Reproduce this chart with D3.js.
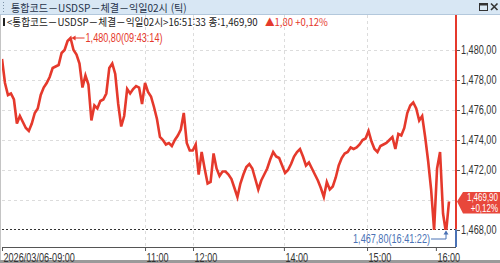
<!DOCTYPE html>
<html lang="ko">
<head>
<meta charset="utf-8">
<title>통합코드-USDSP 틱</title>
<script src="https://cdn.jsdelivr.net/npm/d3@7"></script>
<style>
  body { margin: 0; background: #fff; }
  svg { display: block; }
  .num { font-family: "Liberation Sans", Arial, sans-serif; }
  .kr { font-family: "Noto Sans CJK KR", sans-serif; }
</style>
</head>
<body>
<svg id="chart"></svg>
<script>

// tick-by-tick prices (one value per ~3px)
var prices = [
  1479.4, 1477.8, 1477.0, 1477.1, 1476.7, 1475.1, 1475.6, 1475.2, 1474.8, 1474.6,
  1475.1, 1475.8, 1476.1, 1477.0, 1477.5, 1477.8, 1478.2, 1478.8, 1478.9, 1479.0,
  1479.8, 1480.0, 1480.6, 1480.8, 1480.0, 1479.7, 1479.1, 1477.5, 1478.3, 1477.7,
  1475.3, 1476.3, 1476.1, 1476.6, 1476.7, 1477.1, 1478.8, 1479.1, 1478.4, 1476.4,
  1474.9, 1475.6, 1477.4, 1477.1, 1477.4, 1477.6, 1477.5, 1476.4, 1477.8, 1477.2,
  1476.9, 1476.2, 1475.4, 1474.2, 1474.0, 1473.7, 1473.8, 1473.6, 1474.0, 1474.3,
  1474.7, 1475.8, 1473.8, 1473.3, 1473.3, 1473.7, 1471.7, 1473.2, 1472.1, 1471.1,
  1471.2, 1473.1, 1472.1, 1471.6, 1471.9, 1471.9, 1471.7, 1471.4, 1470.8, 1470.2,
  1471.1, 1471.7, 1472.2, 1472.4, 1472.1, 1471.4, 1470.7, 1471.3, 1471.7, 1472.1,
  1472.7, 1473.2, 1472.9, 1472.8, 1472.3, 1471.8, 1472.0, 1472.4, 1472.9, 1473.2,
  1473.4, 1472.9, 1472.3, 1472.5, 1472.1, 1471.7, 1471.3, 1470.8, 1470.2, 1471.2,
  1470.7, 1470.9, 1471.5, 1472.3, 1472.8, 1473.1, 1473.2, 1473.5, 1473.4, 1473.5,
  1473.7, 1474.0, 1474.1, 1474.6, 1473.9, 1473.4, 1473.2, 1473.6, 1473.7, 1473.8,
  1474.0, 1474.2, 1473.4, 1474.4, 1474.3, 1474.8, 1475.8, 1476.3, 1476.5, 1476.1,
  1475.3, 1475.6, 1474.2, 1472.6, 1470.7, 1468.0, 1472.1, 1473.2, 1469.1, 1467.8,
  1469.9
];

// time labels and the tick number where each one falls
var timeLabels = ["2026/03/06-09:00", "11:00", "12:00", "14:00", "15:00", "16:00"];
var timeIdx = [0, 48, 64.1, 94.6, 122.5, 145.6];
var gridIdx = [48, 64.1, 94.6, 122.5];

// gridlines every 2 won; the 1,470 label sits under the last-price tag
var yGrid = [1470, 1472, 1474, 1476, 1478, 1480];
var yTicks = [1468, 1472, 1474, 1476, 1478, 1480];

var titleText = "통합코드－USDSP－체결－익일02시 (틱)";
var headText = "<통합코드－USDSP－체결－익일02시>16:51:33 종:1,469,90";
var chgText = "▲1,80 +0,12%";
var hiTime = "09:43:14";
var loTime = "16:41:22";
var lastChg = "+0,12%";

var width = 500, height = 263;
var red = "#e5392c", blue = "#4a72b5";

// korean terminal style: comma for both grouping and decimal
var fmt = d3.formatLocale({decimal: ",", thousands: ",", grouping: [3], currency: ["", ""]}).format(",.2f");

// squeeze a text horizontally around its anchor
function squeezeBy(t, k) {
  var x0 = +t.attr("x") || 0;
  t.attr("x", x0 / k).attr("transform", "scale(" + k + ",1)");
}
// the terminal font is narrow
function narrow(sel) {
  sel.each(function() { squeezeBy(d3.select(this), 0.76); });
}
// fit a text into a given width
function fitTo(w) {
  return function(sel) {
    sel.each(function() { squeezeBy(d3.select(this), w / this.getComputedTextLength()); });
  };
}

var svg = d3.select("#chart").attr("width", width).attr("height", height);

var plotLeft = 2, plotRight = 456, plotTop = 15, plotBottom = 230, axisY = 247;

var x = d3.scaleLinear().domain([0, prices.length - 1]).range([plotLeft, 449]);
var y = d3.scaleLinear().domain([1468, 1480]).range([230, 50]);

svg.append("rect").attr("width", width).attr("height", height).attr("fill", "#fff");

// window title bar
svg.append("rect").attr("width", width).attr("height", 14).attr("fill", "#d8e7f4");
svg.append("line").attr("x1", 0).attr("x2", width).attr("y1", 14.5).attr("y2", 14.5).attr("stroke", "#b3c8dc");
svg.append("line").attr("x1", 3.5).attr("x2", 3.5).attr("y1", 2).attr("y2", 13)
  .attr("stroke", "#7d93a8").attr("stroke-dasharray", "1,2");
svg.append("text").attr("class", "kr").attr("x", 11).attr("y", 11.5)
  .attr("font-size", 10.5).attr("fill", "#26334a")
  .text(titleText).call(fitTo(176));
svg.append("rect").attr("x", 479.5).attr("y", 3.5).attr("width", 8).attr("height", 7)
  .attr("fill", "none").attr("stroke", "#333");
svg.append("line").attr("x1", 479.5).attr("x2", 487.5).attr("y1", 4.5).attr("y2", 4.5).attr("stroke", "#333").attr("stroke-width", 2);
svg.append("path").attr("d", "M491,3.5L497.5,10M497.5,3.5L491,10").attr("stroke", "#333").attr("stroke-width", 1.6);

// left border + bottom strip
svg.append("line").attr("x1", 0.5).attr("x2", 0.5).attr("y1", 15).attr("y2", height).attr("stroke", "#c4c4c4");
svg.append("rect").attr("x", 0).attr("y", 260).attr("width", width).attr("height", 3).attr("fill", "#9a9a9a");

// header line
svg.append("rect").attr("x", 3).attr("y", 18).attr("width", 2).attr("height", 8).attr("fill", "#222");
svg.append("text").attr("class", "kr").attr("x", 7).attr("y", 26)
  .attr("font-size", 10.5).attr("fill", "#1a1a1a")
  .text(headText).call(fitTo(251));
svg.append("text").attr("class", "kr").attr("x", 265).attr("y", 26)
  .attr("font-size", 10.5).attr("fill", red)
  .text(chgText).call(fitTo(63));

// grid
var grid = svg.append("g").attr("stroke", "#dcdcdc").attr("stroke-dasharray", "3,3");
grid.selectAll(".hg").data(yGrid)
  .enter().append("line")
  .attr("x1", plotLeft).attr("x2", plotRight)
  .attr("y1", function(d) { return Math.round(y(d)) + 0.5; })
  .attr("y2", function(d) { return Math.round(y(d)) + 0.5; });
grid.selectAll(".vg").data(gridIdx)
  .enter().append("line")
  .attr("x1", function(d) { return Math.round(x(d)) + 0.5; })
  .attr("x2", function(d) { return Math.round(x(d)) + 0.5; })
  .attr("y1", plotTop).attr("y2", axisY);

var hiIdx = d3.maxIndex(prices), loIdx = d3.minIndex(prices);
var hi = prices[hiIdx], lo = prices[loIdx], last = prices[prices.length - 1];
var loY = Math.min(y(lo), plotBottom) - 0.5;

// min level dotted line
svg.append("line").attr("x1", plotLeft).attr("x2", plotRight)
  .attr("y1", loY).attr("y2", loY)
  .attr("stroke", "#333").attr("stroke-dasharray", "2,2");

// price line, clipped to the price pane
svg.append("clipPath").attr("id", "pane").append("rect")
  .attr("x", plotLeft).attr("y", plotTop).attr("width", plotRight - plotLeft).attr("height", plotBottom - plotTop);
var line = d3.line().x(function(d, i) { return x(i); }).y(function(d) { return y(d); });
svg.append("path").datum(prices)
  .attr("clip-path", "url(#pane)")
  .attr("d", line)
  .attr("fill", "none").attr("stroke", red).attr("stroke-width", 2.6).attr("stroke-linejoin", "miter");

// right edge marker
svg.append("line").attr("x1", plotRight).attr("x2", plotRight).attr("y1", plotTop).attr("y2", loY)
  .attr("stroke", red).attr("stroke-width", 2);
svg.append("line").attr("x1", plotRight).attr("x2", plotRight).attr("y1", loY).attr("y2", axisY)
  .attr("stroke", blue).attr("stroke-width", 2);

// value axis
var yAxis = svg.append("g").attr("class", "num").attr("transform", "translate(" + (plotRight + 1) + ",0)")
  .call(d3.axisRight(y).tickValues(yTicks).tickSize(3).tickPadding(1).tickFormat(fmt));
yAxis.select(".domain").remove();
yAxis.selectAll("line").attr("stroke", "#555");
yAxis.selectAll("text").attr("font-size", 12).attr("fill", "#333").attr("font-family", null).call(narrow);

// time axis
var xAxis = svg.append("g").attr("class", "num").attr("transform", "translate(0," + axisY + ")")
  .call(d3.axisBottom(x).tickValues(timeIdx).tickSize(4).tickPadding(2)
    .tickFormat(function(d, i) { return timeLabels[i]; }));
xAxis.select(".domain").attr("d", "M" + plotLeft + ",0.5H" + plotRight).attr("stroke", "#555");
xAxis.selectAll("line").attr("stroke", "#555");
xAxis.selectAll("text").attr("font-size", 12).attr("fill", "#333").attr("font-family", null)
  .attr("text-anchor", "start").attr("x", 1).call(narrow);

// high marker
var hx = x(hiIdx), hy = y(hi);
svg.append("path").attr("d", "M" + (hx + 2) + "," + hy + "H" + (hx + 14))
  .attr("stroke", red).attr("stroke-width", 1);
svg.append("path").attr("d", "M" + (hx + 1) + "," + hy + "l4,-2.5v5z").attr("fill", red);
svg.append("text").attr("class", "num").attr("x", hx + 15).attr("y", hy)
  .attr("dy", "0.35em").attr("font-size", 12).attr("fill", red)
  .text(fmt(hi) + "(" + hiTime + ")").call(narrow);

// low marker
var lx = x(loIdx), ly = 239;
svg.append("path").attr("d", "M" + (lx - 15) + "," + ly + "H" + lx + "V" + (loY + 2))
  .attr("fill", "none").attr("stroke", blue).attr("stroke-width", 1);
svg.append("path").attr("d", "M" + lx + "," + (loY + 1) + "l-2.5,4h5z").attr("fill", blue);
svg.append("text").attr("class", "num").attr("x", lx - 16).attr("y", ly)
  .attr("dy", "0.35em").attr("font-size", 12).attr("fill", blue).attr("text-anchor", "end")
  .text(fmt(lo) + "(" + loTime + ")").call(narrow);

// last price tag
var ty = y(last);
svg.append("path")
  .attr("d", "M" + (plotRight + 1) + "," + ty + "L" + (plotRight + 7) + "," + (ty - 9.5) + "H" + width + "V" + (ty + 12) + "H" + (plotRight + 7) + "Z")
  .attr("fill", "#e8473b");
svg.append("text").attr("class", "num").attr("x", 498).attr("y", ty - 0.5)
  .attr("font-size", 10.5).attr("fill", "#fff").attr("text-anchor", "end")
  .text(fmt(last)).call(narrow);
svg.append("text").attr("class", "num").attr("x", 498).attr("y", ty + 10.5)
  .attr("font-size", 10.5).attr("fill", "#fff").attr("text-anchor", "end")
  .text(lastChg).call(narrow);

</script>
</body>
</html>
